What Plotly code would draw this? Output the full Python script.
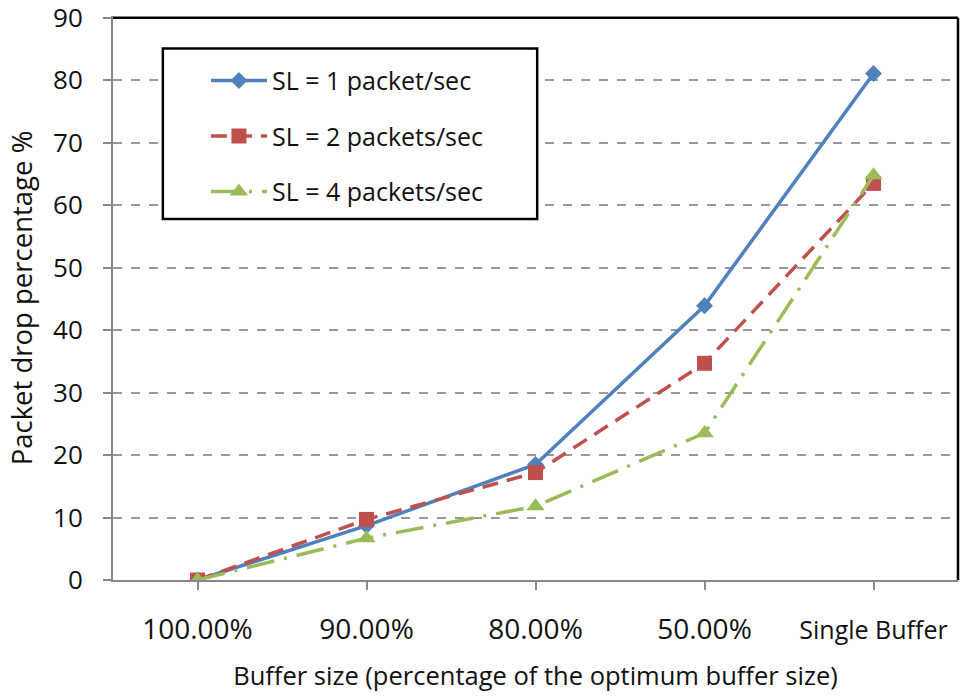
import plotly.graph_objects as go

# Buffer configurations and packet-drop results (%)
categories = ["100.00%", "90.00%", "80.00%", "50.00%", "Single Buffer"]
sl1_drop = [0, 8.7, 18.5, 43.9, 81.1]
sl2_drop = [0, 9.7, 17.2, 34.7, 63.5]
sl4_drop = [0, 6.7, 11.8, 23.5, 64.8]
series_names = ["SL = 1 packet/sec", "SL = 2 packets/sec", "SL = 4 packets/sec"]
y_ticks = [0, 10, 20, 30, 40, 50, 60, 70, 80, 90]

FONT = "Open Sans"
BLUE = "#4F81BD"
RED = "#C0504D"
GREEN = "#9BBB59"

x_idx = list(range(len(categories)))

fig = go.Figure()
fig.add_trace(go.Scatter(
    x=x_idx, y=sl1_drop, name=series_names[0], mode="lines+markers",
    line=dict(color=BLUE, width=3.5),
    marker=dict(symbol="diamond", size=13, color=BLUE),
    legendgroup="a",
))
fig.add_trace(go.Scatter(
    x=x_idx, y=sl2_drop, name=series_names[1], mode="lines+markers",
    line=dict(color=RED, width=3.5, dash="16px,9px"),
    marker=dict(symbol="square", size=15, color=RED),
    legendgroup="b",
))
fig.add_trace(go.Scatter(
    x=x_idx, y=sl4_drop, name=series_names[2], mode="lines+markers",
    line=dict(color=GREEN, width=3.5, dash="28px,10px,3px,10px"),
    marker=dict(symbol="triangle-up", size=16, color=GREEN),
    legendgroup="c",
))

ticktext = categories[:-1] + ["<span style='font-size:25px'>%s</span>" % categories[-1]]

fig.update_layout(
    width=961, height=698,
    margin=dict(l=113, r=3, t=16, b=118),
    paper_bgcolor="white", plot_bgcolor="white",
    font=dict(family=FONT, color="#111111", size=26),
    showlegend=True,
    legend=dict(
        x=0.110, y=0.926, xanchor="left", yanchor="top",
        bgcolor="rgba(0,0,0,0)", borderwidth=0,
        font=dict(family=FONT, size=25, color="#111111"),
        tracegroupgap=20, itemwidth=56,
    ),
    xaxis=dict(
        range=[-0.5, 4.5], tickmode="array", tickvals=x_idx, ticktext=ticktext,
        tickson="boundaries", ticks="outside", ticklen=8, tickwidth=2,
        tickcolor="#888888", showline=True, linecolor="#888888", linewidth=2,
        showgrid=False, zeroline=False, ticklabelstandoff=15,
        ticklabeloverflow="allow", automargin=False,
        tickfont=dict(size=28, family=FONT),
        title=dict(text="Buffer size (percentage of the optimum buffer size)",
                   font=dict(size=25.5, family=FONT), standoff=22),
    ),
    yaxis=dict(
        range=[0, 90.3], tickmode="array", tickvals=y_ticks,
        ticks="outside", ticklen=8, tickwidth=2, tickcolor="#888888",
        showline=True, linecolor="#888888", linewidth=2,
        showgrid=True, gridcolor="#999999", gridwidth=2, griddash="dash",
        zeroline=False, ticklabelstandoff=15, ticklabeloverflow="allow",
        automargin=False,
        tickfont=dict(size=26, family=FONT),
        title=dict(text="Packet drop percentage %",
                   font=dict(size=27.5, family=FONT), standoff=12),
    ),
    shapes=[
        # legend box
        dict(type="rect", xref="paper", yref="y",
             x0=0.059, x1=0.502, y0=57.8, y1=85.1,
             line=dict(color="black", width=2.5), fillcolor="white", layer="above"),
        # chart frame (top and right), closing at y = 90
        dict(type="line", xref="paper", yref="y", x0=0, x1=1, y0=90, y1=90,
             line=dict(color="black", width=2.5), layer="above"),
        dict(type="line", xref="paper", yref="y", x0=1, x1=1, y0=0, y1=90,
             line=dict(color="black", width=2.5), layer="above"),
    ],
)

fig.write_html("out.html")
